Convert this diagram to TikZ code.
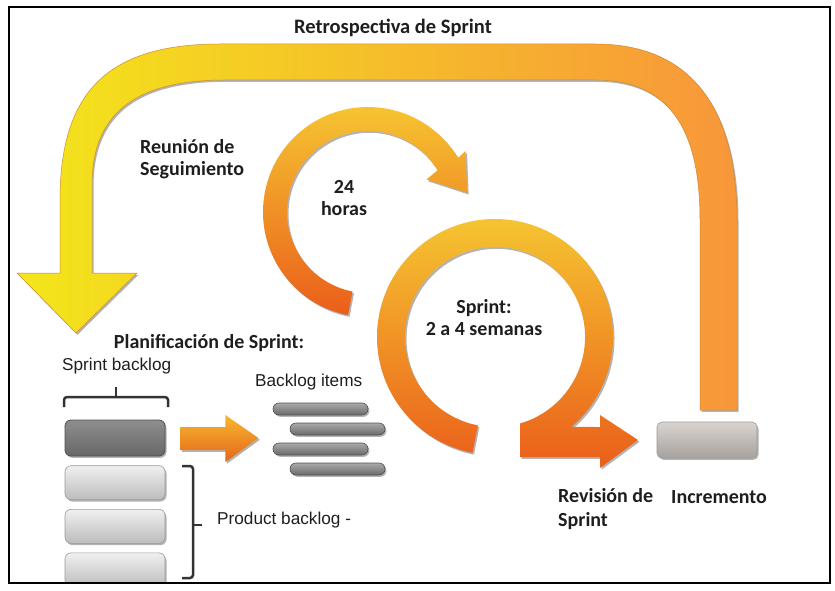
\documentclass[tikz,border=0pt]{standalone}
\usepackage{fontspec}
\setmainfont{Carlito}
\newfontfamily\arialfont{Liberation Sans}
\usetikzlibrary{positioning, shadows}
\definecolor{Scrum_Yellow}{HTML}{F3E61A}
\definecolor{Scrum_Amber}{HTML}{F8B83A}
\definecolor{Scrum_Orange}{HTML}{F8963A}
\definecolor{Scrum_Edge}{HTML}{D08A30}
\definecolor{Ring_Top}{HTML}{F6C832}
\definecolor{Ring_Bottom}{HTML}{EA5E1A}
\definecolor{Push_Top}{HTML}{F6B82E}
\definecolor{Push_Bottom}{HTML}{E4661C}
\definecolor{Box_DarkTop}{HTML}{8E8E8E}
\definecolor{Box_DarkBottom}{HTML}{686868}
\definecolor{Box_DarkEdge}{HTML}{4E4E4E}
\definecolor{Box_LightTop}{HTML}{F0F0F0}
\definecolor{Box_LightBottom}{HTML}{BCBCBC}
\definecolor{Box_LightEdge}{HTML}{9A9A9A}
\definecolor{Item_Top}{HTML}{AAAAAA}
\definecolor{Item_Bottom}{HTML}{6A6A6A}
\definecolor{Incr_Top}{HTML}{DAD4D0}
\definecolor{Incr_Bottom}{HTML}{A8A29E}
\definecolor{Scrum_Text}{HTML}{1E1E1E}
\definecolor{Scrum_Bracket}{HTML}{333333}

\begin{document}
\begin{tikzpicture}[
    x=1pt, y=1pt,
    bold/.style={font=\fontsize{20}{22}\selectfont\bfseries, text=Scrum_Text, align=center, inner sep=0pt},
    plain/.style={font=\arialfont\fontsize{17.2}{20}\selectfont, text=Scrum_Text, inner sep=0pt, anchor=west},
    band/.style={drop shadow={shadow xshift=1.5pt, shadow yshift=-1.8pt, opacity=0.6}},
    ring/.style={band, top color=Ring_Top, bottom color=Ring_Bottom},
    darkbox/.style={minimum width=100pt, minimum height=36pt, rounded corners=6pt, draw=Box_DarkEdge, line width=0.8pt, top color=Box_DarkTop, bottom color=Box_DarkBottom, band},
    lightbox/.style={minimum width=100pt, minimum height=34pt, rounded corners=6pt, draw=Box_LightEdge, line width=0.6pt, top color=Box_LightTop, bottom color=Box_LightBottom, band},
    item/.style={minimum width=95pt, minimum height=12pt, inner sep=0pt, rounded corners=6pt, draw=Box_DarkEdge, line width=0.6pt, top color=Item_Top, bottom color=Item_Bottom, band},
    incrbox/.style={minimum width=100pt, minimum height=36pt, rounded corners=5pt, draw=Box_LightEdge, line width=0.6pt, top color=Incr_Top, bottom color=Incr_Bottom, band},
    bracket/.style={draw=Scrum_Bracket, line width=2.5pt, rounded corners=3pt}
]
\useasboundingbox (0,0) rectangle (835,590);

% retrospective loop
\path[band, left color=Scrum_Yellow, middle color=Scrum_Amber, right color=Scrum_Orange, draw=Scrum_Edge, line width=0.5pt]
  (737,180) -- (737,370) .. controls (737,470) and (700,546) .. (595,546)
  -- (220,546) .. controls (110,546) and (60,500) .. (60,390)
  -- (60,317) -- (17,317) -- (76,257) -- (137,317) -- (92,317)
  -- (92,405) .. controls (92,480) and (140,510) .. (225,510)
  -- (595,510) .. controls (670,510) and (700,460) .. (700,370)
  -- (700,180) -- cycle;

% daily cycle
\path[ring, shift={(368,378)}] (259:105) arc[start angle=259, end angle=31, radius=105]
  -- (32:115) -- (11:101) -- (29:67) -- (31:81) arc[start angle=31, end angle=259, radius=81] -- cycle;

% sprint cycle
\path[ring, shift={(495,253)}] (259:118) arc[start angle=259, end angle=-49.7, radius=118]
  -- (105,-90) -- (105,-78) -- (143,-103) -- (105,-131) -- (105,-120) -- (25,-120)
  -- (25,-86.5) arc[start angle=-73.9, end angle=259, radius=90] -- cycle;

% backlog stack
\node[darkbox] (sb) at (115,152) {};
\node[lightbox, below=9pt of sb] (pb1) {};
\node[lightbox, below=9pt of pb1] (pb2) {};
\node[lightbox, below=9pt of pb2] (pb3) {};

\draw[bracket] (64,183) -- (64,193) -- (168,193) -- (168,183);
\draw[bracket] (116,193) -- (116,203);
\draw[bracket] (182,124) -- (193,124) -- (193,12) -- (182,12);
\draw[bracket] (193,65) -- (202,65);

\path[band, top color=Push_Top, bottom color=Push_Bottom]
  ([xshift=15pt, yshift=-12pt]sb.east) -- ++(45,0) -- ++(0,-12) -- ++(33,24)
  -- ++(-33,23) -- ++(0,-12) -- ++(-45,0) -- cycle;

\foreach \i/\dx in {1/0, 2/17, 3/0, 4/17}
  \node[item] (bi\i) at (320.5+\dx, 201-20*\i) {};

\node[incrbox] (inc) at (707,150) {};

% labels
\node[bold, font=\fontsize{20.5}{22}\selectfont\bfseries] (retro) at (393,562) {Retrospectiva de Sprint};
\node[bold, anchor=west, align=left] (daily) at (140,431) {Reunión de\\Seguimiento};
\node[bold] (day) at (344,392) {24\\horas};
\node[bold] (sprint) at (484,272) {Sprint:\\2 a 4 semanas};
\node[bold] (plan) at (209,247) {Planificación de Sprint:};
\node[plain] (sbl) at (62,224) {Sprint backlog};
\node[plain] (bli) at (255,208) {Backlog items};
\node[plain] (pbl) at (217,70) {Product backlog -};
\node[bold, font=\fontsize{20}{24}\selectfont\bfseries, anchor=west, align=left] (review) at (558,81) {Revisión de\\Sprint};
\node[bold, anchor=west] (incl) at (671,93) {Incremento};

% frame
\fill[white, even odd rule] (0,0) rectangle (835,590) (9,7) rectangle (830,583);
\draw[line width=2.2pt] (9,7) rectangle (830,583);
\end{tikzpicture}
\end{document}
